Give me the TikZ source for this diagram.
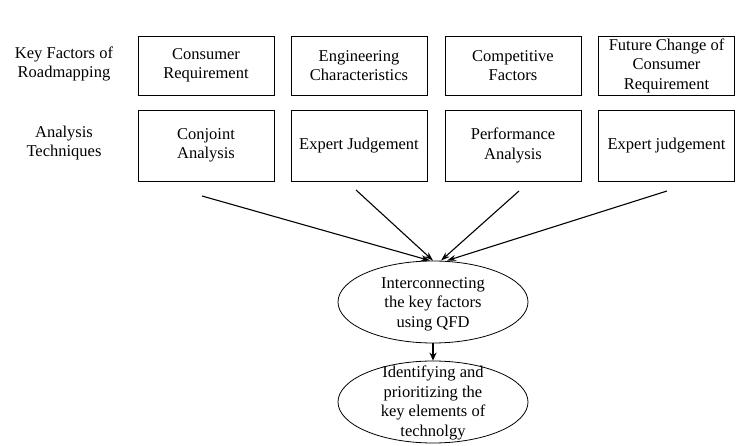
\documentclass[tikz,border=0pt]{standalone}
\usepackage{fontspec}
\setmainfont{Liberation Serif}
\usetikzlibrary{arrows.meta,shapes.geometric}
\begin{document}
\begin{tikzpicture}[x=1pt,y=-1pt,every node/.style={font=\fontsize{16.5}{19.5}\selectfont,align=center},
box/.style={draw,line width=0.8pt,minimum width=136pt,inner sep=0pt},
oval/.style={draw,ellipse,line width=0.8pt,minimum width=190pt,minimum height=82pt,inner sep=0pt},
arr/.style={line width=1.1pt,-{Stealth[length=9pt,width=6pt]}}]
\useasboundingbox (0,0) rectangle (753,446);

\node (kf) at (64,64) {Key Factors of\\Roadmapping};
\node (at) at (64,143) {Analysis\\Techniques};

\node[box,minimum height=59pt] (cr) at (206,65.5) {Consumer\\Requirement};
\node[box,minimum height=59pt] (ec) at (359,65.5) {Engineering\\Characteristics};
\node[box,minimum height=59pt] (cf) at (513,65.5) {Competitive\\Factors};
\node[box,minimum height=59pt] (fc) at (666.5,65.5) {Future Change of\\Consumer\\Requirement};

\node[box,minimum height=71pt] (ca) at (206,145.5) {Conjoint\\Analysis};
\node[box,minimum height=71pt] (ej) at (359,145.5) {Expert Judgement};
\node[box,minimum height=71pt] (pa) at (513,145.5) {Performance\\Analysis};
\node[box,minimum height=71pt] (ej2) at (666.5,145.5) {Expert judgement};

\node[oval] (qfd) at (433,302) {};
\node (qfdtext) at (433,304) {Interconnecting\\the key factors\\using QFD};
\node[oval] (tech) at (433,402) {};
\node (techtext) at (433,403) {Identifying and\\prioritizing the\\key elements of\\technolgy};

\coordinate (s1) at (202,196);
\coordinate (s2) at (356,190);
\coordinate (s3) at (519,191);
\coordinate (s4) at (667,191);
\draw[arr] (s1) -- ([xshift=-3pt]qfd.north);
\draw[arr] (s2) -- ([xshift=0pt]qfd.north);
\draw[arr] (s3) -- ([xshift=8pt]qfd.north);
\draw[arr] (s4) -- ([xshift=14pt]qfd.north);
\draw[line width=2pt,-{Stealth[length=8pt,width=7pt]}] (qfd.south) -- (tech.north);

\end{tikzpicture}
\end{document}
